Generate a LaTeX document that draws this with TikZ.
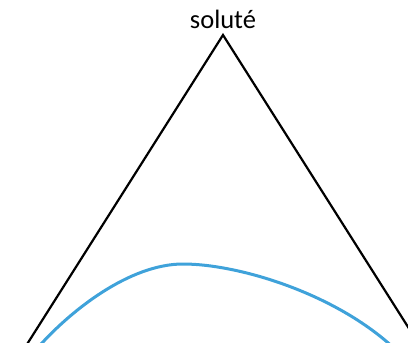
\documentclass[tikz,border=0pt]{standalone}
\usepackage{fontspec}
\setmainfont{Carlito}
\usepackage{xcolor}
\usepackage{tikz}
\usetikzlibrary{positioning}
\definecolor{curveblue}{HTML}{3FA2DA}
\definecolor{dark}{HTML}{000000}
\tikzset{
    side/.style={draw=dark, line width=2.2pt},
    curve/.style={draw=curveblue, line width=3pt, line cap=round},
    vertexlabel/.style={font=\fontsize{26.5}{30}\selectfont, inner sep=0pt, anchor=base}
}
\begin{document}
\begin{tikzpicture}[x=1pt, y=-1pt]

\useasboundingbox (0,0) rectangle (408,343);
\clip (0,0) rectangle (408,343);

\coordinate (apex) at (223,35);
\coordinate (leftfoot) at (20.2,355);
\coordinate (rightfoot) at (425.8,355);
\node[vertexlabel] (solute) at (223,28) {soluté};

\draw[side] (leftfoot) -- (apex) -- (rightfoot);

\coordinate (crest) at (183,264);
\draw[curve] (34,352) .. controls (70,310) and (130,264) .. (crest)
    .. controls (240,264) and (340,295) .. (398,352);

\end{tikzpicture}
\end{document}
